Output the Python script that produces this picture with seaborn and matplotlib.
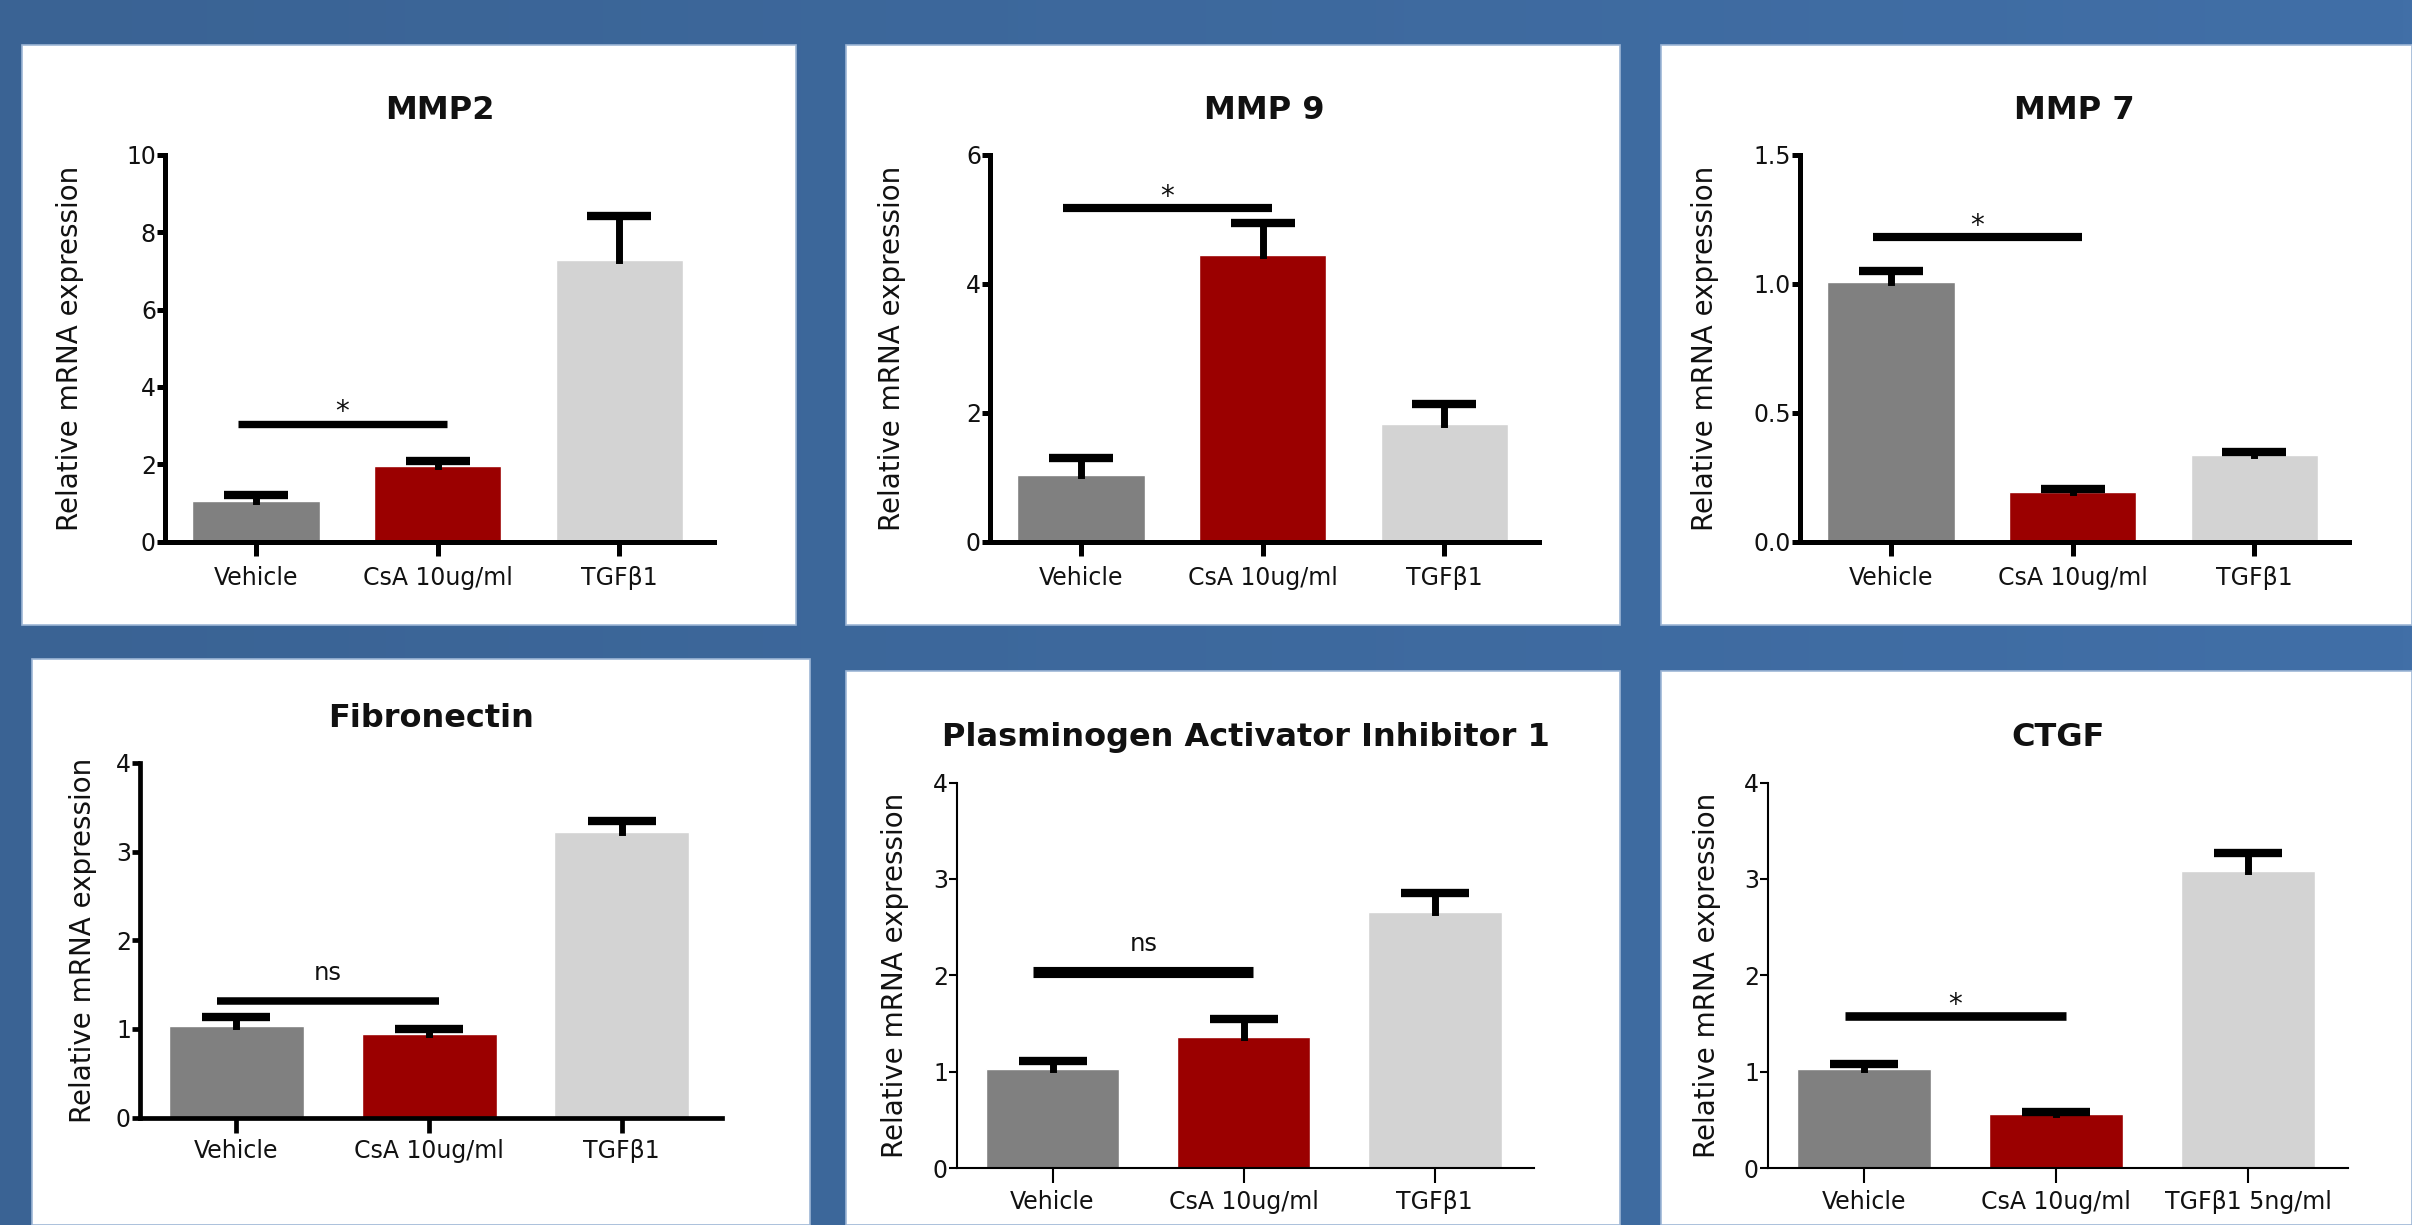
# plot.py
# six-panel qPCR bar chart (relative mRNA expression), GraphPad-like styling

import numpy as np
import matplotlib
matplotlib.use("Agg")
import matplotlib.pyplot as plt
import seaborn as sns
from matplotlib.patches import Rectangle
from matplotlib.colors import LinearSegmentedColormap

# ---- data ----
groups = ["Vehicle", "CsA 10ug/ml", "TGFβ1"]
groups_ctgf = ["Vehicle", "CsA 10ug/ml", "TGFβ1 5ng/ml"]
bar_colors = ["#808080", "#9B0000", "#D3D3D3"]

titles = ["MMP2", "MMP 9", "MMP 7", "Fibronectin",
          "Plasminogen Activator Inhibitor 1", "CTGF"]

mmp2_mean = [1.06, 1.96, 7.28]
mmp2_err = [0.15, 0.12, 1.15]
mmp9_mean = [1.04, 4.45, 1.83]
mmp9_err = [0.26, 0.49, 0.30]
mmp7_mean = [1.007, 0.192, 0.337]
mmp7_err = [0.041, 0.010, 0.009]
fib_mean = [1.03, 0.94, 3.22]
fib_err = [0.10, 0.06, 0.13]
pai1_mean = [1.03, 1.36, 2.66]
pai1_err = [0.08, 0.19, 0.19]
ctgf_mean = [1.03, 0.56, 3.08]
ctgf_err = [0.05, 0.02, 0.19]

sig_height = [3.05, 5.18, 1.18, 1.31, 2.03, 1.58]
sig_label = ["*", "*", "*", "ns", "ns", "*"]
y_max = [10, 6, 1.5, 4, 4, 4]
y_step = [2, 2, 0.5, 1, 1, 1]
y_fmt = ["{:.0f}", "{:.0f}", "{:.1f}", "{:.0f}", "{:.0f}", "{:.0f}"]

W, H = 2412, 1225


def px_rect(l, t, r, b):
    return [l / W, 1 - b / H, (r - l) / W, (b - t) / H]


# panel layout in pixels: white box, axes box, spine width, ylabel offset
panels = [
    dict(box=(22, 45, 796, 625), ax=(165, 155, 714, 541.5), lw=3.6, ydx=81, bottom=False, sig_lw=5.3),
    dict(box=(846, 45, 1620, 625), ax=(990, 155, 1539, 541.5), lw=3.6, ydx=84, bottom=False, sig_lw=5.9),
    dict(box=(1661, 45, 2412, 625), ax=(1800, 155, 2349, 541.5), lw=3.6, ydx=81, bottom=False, sig_lw=5.9),
    dict(box=(32, 659, 810, 1225), ax=(140, 763, 722, 1117.6), lw=3.4, ydx=43, bottom=True, sig_lw=5.4),
    dict(box=(846, 671, 1620, 1225), ax=(957, 782.5, 1534, 1168), lw=1.5, ydx=48, bottom=True, sig_lw=8.0),
    dict(box=(1661, 671, 2412, 1225), ax=(1768, 782.5, 2348, 1168), lw=1.5, ydx=47, bottom=True, sig_lw=6.2),
]

means = [mmp2_mean, mmp9_mean, mmp7_mean, fib_mean, pai1_mean, ctgf_mean]
errs = [mmp2_err, mmp9_err, mmp7_err, fib_err, pai1_err, ctgf_err]
labels = [groups, groups, groups, groups, groups, groups_ctgf]

sns.set_style("ticks")
plt.rcParams["font.family"] = ["DejaVu Sans"]

fig = plt.figure(figsize=(W / 100, H / 100), dpi=100)

# blue slide background (slight left-to-right gradient)
bg = fig.add_axes([0, 0, 1, 1], zorder=-5)
bg_cmap = LinearSegmentedColormap.from_list("slide", ["#3A6394", "#416FA7"])
bg.imshow(np.linspace(0, 1, 256)[None, :], cmap=bg_cmap, aspect="auto",
          extent=(0, 1, 0, 1))
bg.set_axis_off()

for i, p in enumerate(panels):
    l, t, r, b = p["box"]
    fig.add_artist(Rectangle((l / W, 1 - b / H), (r - l) / W, (b - t) / H,
                             transform=fig.transFigure, facecolor="white",
                             edgecolor="#9DB6D6", linewidth=1.2, zorder=-1))

    ax = fig.add_axes(px_rect(*p["ax"]))
    ax.set_facecolor("none")
    m = np.array(means[i])
    e = np.array(errs[i])

    sns.barplot(x=labels[i], y=m, hue=labels[i], palette=bar_colors,
                saturation=1, width=0.7, legend=False, errorbar=None, ax=ax,
                zorder=2)

    # upper-only error bars with thick caps
    axw = p["ax"][2] - p["ax"][0]
    capsize = 0.355 * axw / 3.02 / 2 / 1.389
    eb = ax.errorbar(np.arange(3), m, yerr=[np.zeros(3), e], fmt="none",
                     ecolor="black", elinewidth=5, capsize=capsize,
                     capthick=6, zorder=3)
    for cl in eb[1]:
        if np.allclose(cl.get_ydata(), m):
            cl.set_visible(False)
    eb[2][0].set_capstyle("projecting")

    # significance bar Vehicle vs CsA
    x0, x1 = 0 - 0.1, 1 + 0.05
    h = sig_height[i]
    ax.plot([x0, x1], [h, h], color="black", lw=p["sig_lw"],
            solid_capstyle="butt", zorder=4)
    if sig_label[i] == "*":
        ax.annotate("*", xy=((x0 + x1) / 2, h), xytext=(0, -2),
                    textcoords="offset points", ha="center", va="bottom",
                    fontsize=20, color="#111111")
    else:
        ax.annotate(sig_label[i], xy=((x0 + x1) / 2, h), xytext=(0, 12),
                    textcoords="offset points", ha="center", va="bottom",
                    fontsize=17.5, color="#111111")

    ax.set_xlim(-0.5, 2.52)
    ax.set_ylim(0, y_max[i])
    ticks = np.arange(0, y_max[i] + y_step[i] / 2, y_step[i])
    ax.set_yticks(ticks)
    ax.set_yticklabels([y_fmt[i].format(v) for v in ticks])

    sns.despine(ax=ax)
    for s in ["left", "bottom"]:
        ax.spines[s].set_linewidth(p["lw"])
        ax.spines[s].set_color("black")

    ax.tick_params(axis="x", direction="out",
                   length=10.5 if p["bottom"] else 9.8, width=p["lw"],
                   pad=5 if p["bottom"] else 8, labelsize=17,
                   colors="black", labelcolor="#111111")
    ax.tick_params(axis="y", direction="out", length=5.5, width=p["lw"],
                   pad=1, labelsize=17, colors="black", labelcolor="#111111")
    ax.set_xlabel("")
    ax.set_ylabel("Relative mRNA expression", fontsize=20, color="#111111")
    ax.yaxis.set_label_coords(-p["ydx"] / axw, 0.5)
    ax.set_title(titles[i], fontsize=23, fontweight="bold", pad=26,
                 color="#111111")

fig.savefig("out.png", dpi=100)
